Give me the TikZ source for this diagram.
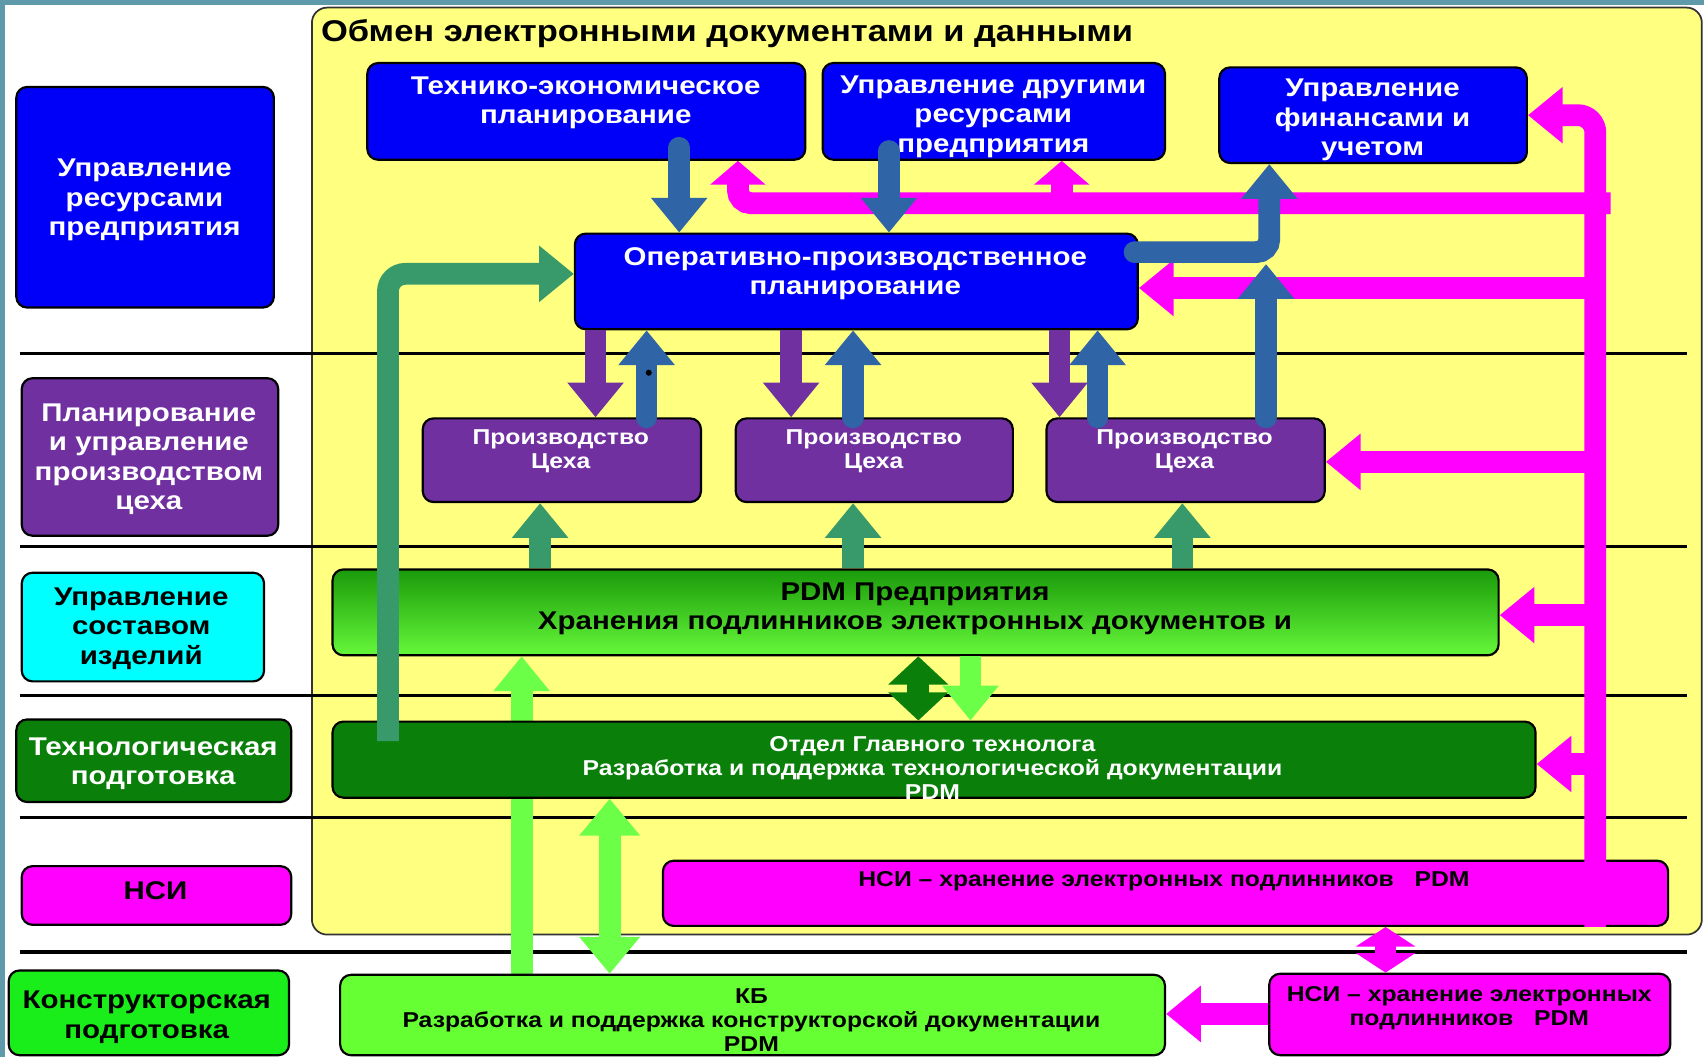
\documentclass[tikz,border=0pt]{standalone}
\usepackage{fontspec}
\setmainfont{Liberation Sans}[FakeStretch=1.15]
\usetikzlibrary{arrows.meta,fit,calc,backgrounds}
\definecolor{cframe}{HTML}{5E9AAA}
\definecolor{cyellow}{HTML}{FFFF80}
\definecolor{cblue}{HTML}{0000F8}
\definecolor{cpurple}{HTML}{7030A0}
\definecolor{ccyan}{HTML}{00FFFF}
\definecolor{cdkgreen}{HTML}{0A800A}
\definecolor{cmag}{HTML}{FF00FF}
\definecolor{cbgreen}{HTML}{1AEE1A}
\definecolor{clgreen}{HTML}{66FF33}
\definecolor{carrlg}{HTML}{6CFF48}
\definecolor{csteel}{HTML}{2F65A7}
\definecolor{cteal}{HTML}{389A6A}
\definecolor{cpdmtop}{HTML}{1A9A0A}
\definecolor{cpdmbot}{HTML}{66F83A}
\begin{document}
\begin{tikzpicture}[x=0.5pt,y=-0.5pt,
  >={Triangle[width=25pt,length=16pt]},
  box/.style={draw=black,line width=1pt,rounded corners=5pt,inner sep=0pt},
  big/.style={font=\bfseries\fontsize{11.8}{13.5}\selectfont,align=center,inner sep=0pt,yshift=-1.5pt},
  small/.style={font=\bfseries\fontsize{9.9}{11}\selectfont,align=center,inner sep=0pt,yshift=-1.5pt},
  fat/.style={line width=10pt},
  shorttip/.style={-{Triangle[width=25pt,length=11pt]}},
  sepline/.style={line width=1.5pt,black}]
\useasboundingbox (0,0) rectangle (1568,973);
\clip (0,0) rectangle (1568,973);

% ---------- left column ----------
\node[box, fill=cblue, fit={(15,80)(252,283)}] (l1) {};
\node[big, text=white] (l1t) at (133,181) {Управление\\ресурсами\\предприятия};
\node[box, fill=cpurple, fit={(20,348)(256,493)}] (l2) {};
\node[big, text=white] (l2t) at (137,419.5) {Планирование\\и управление\\производством\\цеха};
\node[box, fill=ccyan, fit={(20,527)(243,627)}] (l3) {};
\node[big] (l3t) at (130,575.5) {Управление\\составом\\изделий};
\node[box, fill=cdkgreen, fit={(15,662)(268,738)}] (l4) {};
\node[big, text=white] (l4t) at (141,699.5) {Технологическая\\подготовка};
\node[box, fill=cmag, fit={(20,797)(268,851)}] (l5) {};
\node[big] (l5t) at (143,817) {НСИ};
\node[box, fill=cbgreen, fit={(8,893)(266,971)}] (l6) {};
\node[big] (l6t) at (135,933) {Конструкторская\\подготовка};

% ---------- main area boxes ----------
\node[box, fill=cblue, fit={(338,58)(741,147)}] (tep) {};
\node[big, text=white] (tept) at (539,91.5) {Технико-экономическое\\планирование};
\node[box, fill=cblue, fit={(757,58)(1072,147)}] (udr) {};
\node[big, text=white] (udrt) at (914,104.5) {Управление другими\\ресурсами\\предприятия};
\node[box, fill=cblue, fit={(1122,62)(1405,150)}] (fin) {};
\node[big, text=white] (fint) at (1263,107.5) {Управление\\финансами и\\учетом};
\node[box, fill=cblue, fit={(529,215)(1047,303)}] (opp) {};
\node[big, text=white] (oppt) at (787,249) {Оперативно-производственное\\планирование};

\node[box, fill=cpurple, fit={(389,385)(645,462)}] (p1) {};
\node[small, text=white] (p1t) at (516,412) {Производство\\Цеха};
\node[box, fill=cpurple, fit={(677,385)(932,462)}] (p2) {};
\node[small, text=white] (p2t) at (804,412) {Производство\\Цеха};
\node[box, fill=cpurple, fit={(963,385)(1219,462)}] (p3) {};
\node[small, text=white] (p3t) at (1090,412) {Производство\\Цеха};

\node[box, top color=cpdmtop, bottom color=cpdmbot, fit={(306,524)(1379,603)}] (pdm) {};
\node[big] (pdmt) at (842,557.5) {PDM Предприятия\\Хранения подлинников электронных документов и};

\node[box, fill=cdkgreen, fit={(306,664)(1413,734)}] (otd) {};
\node[small, text=white] (otdt) at (858,703.5) {Отдел Главного технолога\\Разработка и поддержка технологической документации\\PDM};

\node[box, fill=cmag, fit={(610,792)(1535,852)}] (nsi) {};
\node[small] (nsit) at (1071,808) {НСИ – хранение электронных подлинников\ \ \ PDM};

\node[box, fill=clgreen, fit={(313,897)(1072,971)}] (kb) {};
\node[small] (kbt) at (691.5,935.5) {КБ\\Разработка и поддержка конструкторской документации\\PDM};

\node[box, fill=cmag, fit={(1168,896)(1537,971)}] (nsil) {};
\node[small] (nsilt) at (1352,924.5) {НСИ – хранение электронных\\подлинников\ \ \ PDM};

% ---------- background layer ----------
\begin{scope}[on background layer]
  \fill[white] (0,0) rectangle (1568,973);
  \fill[cframe] (0,0) rectangle (1568,5);
  \fill[cframe] (0,0) rectangle (5,973);
  \node[draw=black!80, line width=0.8pt, rounded corners=7pt, fill=cyellow, inner sep=0pt, fit={(287,7)(1566,860)}] (main) {};
  \foreach \yy in {325,503,640,752,876} \draw[sepline] (18,\yy) -- (1552,\yy);
  \draw[fat, carrlg, ->] (480,0 |- kb.north) -- (480,0 |- pdm.south);
\end{scope}

\node[anchor=west, font=\bfseries\fontsize{13.8}{16}\selectfont, inner sep=0pt] (title) at (295,31) {Обмен электронными документами и данными};

% ---------- magenta ----------
\draw[fat, cmag, rounded corners=8pt, ->] (1468,0 |- nsi.south) |- (fin.east);
\draw[fat, cmag, rounded corners=6pt, shorttip] (1482,187) -| (679,0 |- tep.south);
\draw[fat, cmag, shorttip] (977,187) -- (977,0 |- udr.south);
\draw[fat, cmag, ->] (1468,265) -- (1468,265 -| opp.east);
\draw[fat, cmag, ->] (1468,425) -- (1468,425 -| p3.east);
\draw[fat, cmag, ->] (1468,566) -- (1468,566 -| pdm.east);
\draw[fat, cmag, ->] (1468,703) -- (1468,703 -| otd.east);
\draw[fat, cmag, {Triangle[width=27pt,length=9pt]}-{Triangle[width=27pt,length=9pt]}] (1275,0 |- nsi.south) -- (1275,0 |- nsil.north);
\draw[fat, cmag, ->] (nsil.west |- 0,933) -- (kb.east |- 0,933);

% ---------- purple ----------
\draw[fat, cpurple, ->] (548,0 |- opp.south) -- (548,0 |- p1.north);
\draw[fat, cpurple, ->] (728,0 |- opp.south) -- (728,0 |- p2.north);
\draw[fat, cpurple, ->] (975,0 |- opp.south) -- (975,0 |- p3.north);

% ---------- steel blue ----------
\draw[fat, csteel, line cap=round, ->] ($(625,0 |- tep.south)+(0,-12)$) -- (625,0 |- opp.north);
\draw[fat, csteel, line cap=round, ->] ($(818,0 |- udr.south)+(0,-9)$) -- (818,0 |- opp.north);
\draw[fat, csteel, line cap=round, ->] (595,0 |- p1.north) -- (595,0 |- opp.south);
\draw[fat, csteel, line cap=round, ->] (785,0 |- p2.north) -- (785,0 |- opp.south);
\draw[fat, csteel, line cap=round, ->] (1010,0 |- p3.north) -- (1010,0 |- opp.south);
\draw[fat, csteel, line cap=round, rounded corners=6pt, ->] ($(0,232 -| opp.east)+(-4,0)$) -| (1168,0 |- fin.south);
\draw[fat, csteel, line cap=round, ->] (1165,0 |- p3.north) -- (1165,243);
\fill[black] (597,343) circle (1.4pt);

% ---------- teal ----------
\draw[fat, cteal, rounded corners=8pt, ->] ($(357,0 |- otd.north)+(0,19)$) |- (0,252 -| opp.west);
\draw[fat, cteal, ->] (497,0 |- pdm.north) -- (497,0 |- p1.south);
\draw[fat, cteal, ->] (785,0 |- pdm.north) -- (785,0 |- p2.south);
\draw[fat, cteal, ->] (1088,0 |- pdm.north) -- (1088,0 |- p3.south);

% ---------- greens ----------
\draw[fat, cdkgreen, {Triangle[width=27pt,length=13pt]}-{Triangle[width=27pt,length=13pt]}] (845,0 |- pdm.south) -- (845,0 |- otd.north);
\draw[fat, carrlg, ->] (893,0 |- pdm.south) -- (893,0 |- otd.north);
\draw[fat, carrlg, {Triangle[width=27pt,length=17pt]}-{Triangle[width=27pt,length=17pt]}] (561,0 |- otd.south) -- (561,0 |- kb.north);
\end{tikzpicture}
\end{document}
